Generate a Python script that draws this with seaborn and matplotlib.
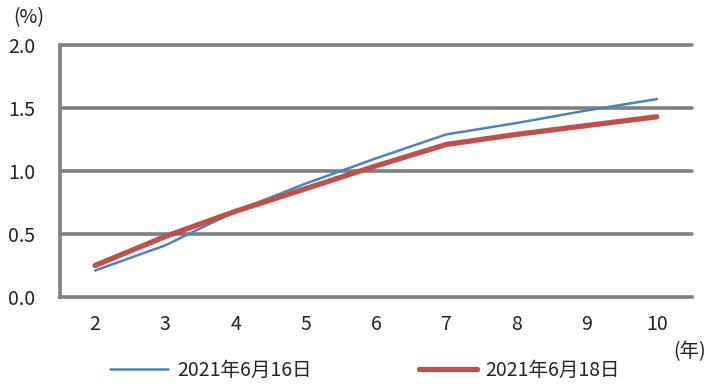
import numpy as np
import pandas as pd
import matplotlib
matplotlib.use("Agg")
import matplotlib.pyplot as plt
import seaborn as sns

# yield curve data
years = [2, 3, 4, 5, 6, 7, 8, 9, 10]
jun16 = [0.21, 0.41, 0.68, 0.90, 1.10, 1.29, 1.38, 1.48, 1.57]
jun18 = [0.25, 0.48, 0.68, 0.86, 1.04, 1.21, 1.29, 1.36, 1.43]
label16 = "2021年6月16日"
label18 = "2021年6月18日"
yticks = [0.0, 0.5, 1.0, 1.5, 2.0]

sns.set_style("white")
plt.rcParams['font.family'] = ['Noto Sans CJK JP', 'DejaVu Sans']

df = pd.DataFrame({"year": years, label16: jun16, label18: jun18})

fig = plt.figure(figsize=(7.09, 3.84), dpi=100)
ax = fig.add_axes([0.0846, 0.2266, 0.8914, 0.6564])

sns.lineplot(data=df, x="year", y=label16, ax=ax, color="#4F81BD",
             linewidth=1.8, label=label16)
sns.lineplot(data=df, x="year", y=label18, ax=ax, color="#C0504D",
             linewidth=3.8, label=label18)

ax.set_xlim(1.5, 10.5)
ax.set_ylim(0, 2.0)
ax.set_xticks(years)
ax.set_yticks(yticks)
ax.set_yticklabels([f"{v:.1f}" for v in yticks])
ax.set_xlabel("")
ax.set_ylabel("")
ax.tick_params(axis="both", length=0, labelsize=14, colors="#222222")
ax.tick_params(axis="x", pad=12)
ax.tick_params(axis="y", pad=18)

for v in yticks[1:]:
    ax.axhline(v, color="#808080", linewidth=2.6, zorder=0.5, clip_on=False)

for s in ["top", "right"]:
    ax.spines[s].set_visible(False)
for s in ["left", "bottom"]:
    ax.spines[s].set_color("#808080")
    ax.spines[s].set_linewidth(2.6)

fig.text(0.040, 0.955, "(%)", fontsize=14, ha="center", va="center", color="#222222")
fig.text(0.972, 0.085, "(年)", fontsize=14, ha="center", va="center", color="#222222")

ax.legend_.remove()
handles, labels = ax.get_legend_handles_labels()
fig.legend(handles, labels, loc="center left", bbox_to_anchor=(0.155, 0.036),
           ncol=2, frameon=False, fontsize=14, handlelength=3.0,
           handletextpad=0.45, columnspacing=5.5, borderpad=0,
           borderaxespad=0)

fig.savefig("out.png", dpi=100)
